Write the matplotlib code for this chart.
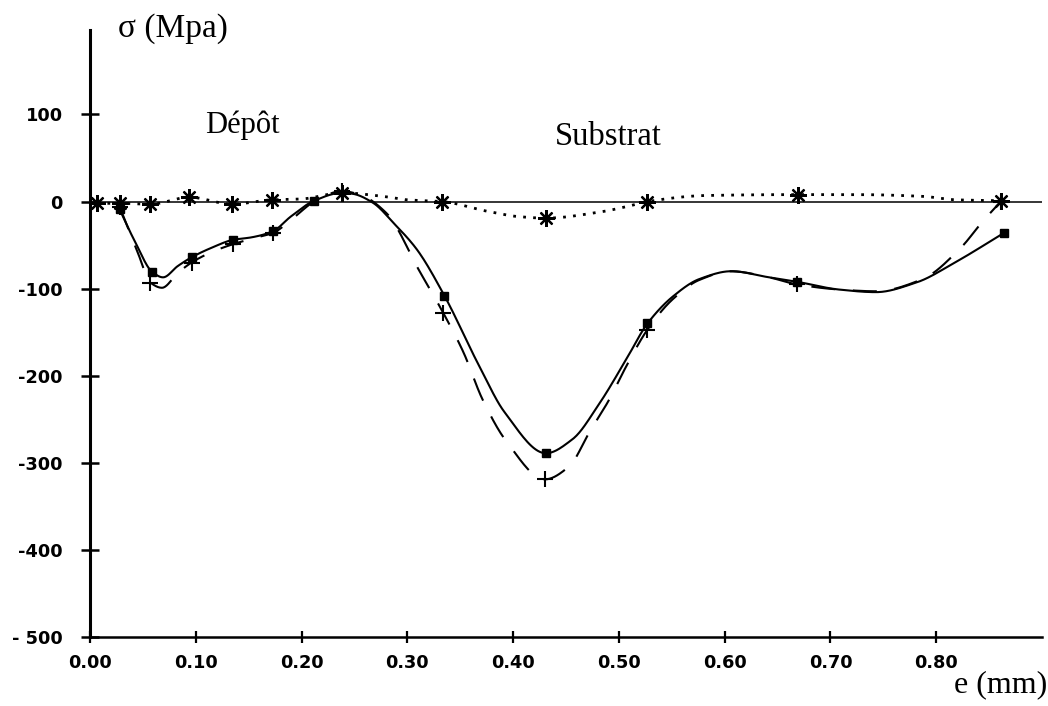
import numpy as np
import matplotlib
matplotlib.use("Agg")
import matplotlib.pyplot as plt

# Depth below surface e (mm) and residual stress sigma (MPa) for three profiles.
# Profile A: solid line, square markers
e_a = [0.028, 0.0425, 0.059, 0.069, 0.083, 0.096, 0.115, 0.135, 0.153, 0.173,
       0.190, 0.212, 0.238, 0.248, 0.267, 0.288, 0.309, 0.335, 0.368, 0.392,
       0.431, 0.456, 0.482, 0.507, 0.527, 0.551, 0.576, 0.606, 0.642, 0.668,
       0.708, 0.743, 0.781, 0.819, 0.864]
s_a = [-9, -46, -81, -87, -74, -64, -53, -44, -41, -34,
       -17, 1, 10, 9, -1, -26, -55, -108, -189, -242,
       -289, -273, -231, -181, -140, -109, -89, -80, -87, -92,
       -101, -104, -93, -69, -36]
marks_a = [0, 2, 5, 7, 9, 11, 17, 20, 24, 29, 34]

# Profile B: dashed line, "+" markers
e_b = [0.028, 0.045, 0.057, 0.068, 0.083, 0.096, 0.115, 0.135, 0.155, 0.173,
       0.192, 0.212, 0.238, 0.255, 0.280, 0.312, 0.334, 0.353, 0.371, 0.394,
       0.430, 0.453, 0.472, 0.491, 0.507, 0.527, 0.551, 0.576, 0.606, 0.642,
       0.668, 0.708, 0.743, 0.787, 0.824, 0.843, 0.861]
s_b = [-6, -58, -93, -99, -82, -70, -58, -49, -42, -36,
       -19, 0, 12, 8, -13, -81, -128, -173, -227, -276,
       -319, -304, -265, -227, -189, -147, -112, -90, -80, -87,
       -95, -101, -103, -89, -52, -24, 0]
marks_b = [0, 2, 5, 7, 9, 12, 16, 20, 25, 30, 36]

# Profile C: dotted line, asterisk markers
e_c = [0.007, 0.028, 0.057, 0.094, 0.134, 0.172, 0.200, 0.238, 0.277, 0.300,
       0.333, 0.375, 0.403, 0.431, 0.482, 0.510, 0.527, 0.583, 0.669, 0.724,
       0.787, 0.819, 0.861]
s_c = [-2, -2, -3, 5, -3, 2, 3, 10, 6, 2,
       0, -11, -17, -19, -12, -5, 0, 7, 8, 8,
       6, 2, 1]
marks_c = [0, 1, 2, 3, 4, 5, 7, 10, 13, 16, 18, 22]

x_ticks = [0.0, 0.1, 0.2, 0.3, 0.4, 0.5, 0.6, 0.7, 0.8]
x_labels = ["0.00", "0.10", "0.20", "0.30", "0.40", "0.50", "0.60", "0.70", "0.80"]
y_ticks = [-500, -400, -300, -200, -100, 0, 100]
y_labels = ["- 500", "-400", "-300", "-200", "-100", "0", "100"]


def pchip(x, y, n=20):
    """Shape-preserving cubic Hermite curve through (x, y)."""
    x = np.asarray(x, float)
    y = np.asarray(y, float)
    h = np.diff(x)
    d = np.diff(y) / h
    m = np.zeros_like(y)
    for k in range(1, len(x) - 1):
        if d[k - 1] * d[k] > 0:
            w1 = 2 * h[k] + h[k - 1]
            w2 = h[k] + 2 * h[k - 1]
            m[k] = (w1 + w2) / (w1 / d[k - 1] + w2 / d[k])
    m[0] = d[0]
    m[-1] = d[-1]
    xs, ys = [], []
    for k in range(len(x) - 1):
        t = np.linspace(0, 1, n, endpoint=False)
        h00 = 2 * t**3 - 3 * t**2 + 1
        h10 = t**3 - 2 * t**2 + t
        h01 = -2 * t**3 + 3 * t**2
        h11 = t**3 - t**2
        xs.extend(x[k] + t * h[k])
        ys.extend(h00 * y[k] + h10 * h[k] * m[k] + h01 * y[k + 1] + h11 * h[k] * m[k + 1])
    xs.append(x[-1])
    ys.append(y[-1])
    return np.array(xs), np.array(ys)


fig = plt.figure(figsize=(10.48, 7.06), dpi=100)
ax = fig.add_axes([0.0859, 0.0977, 0.9084, 0.8598])

# zero reference line
ax.axhline(0, color="black", lw=1.1, zorder=1)

xa, ya = pchip(e_a, s_a)
ax.plot(xa, ya, color="black", lw=1.5, zorder=3)
ax.plot(np.array(e_a)[marks_a], np.array(s_a)[marks_a], ls="none", marker="s",
        ms=6, color="black", zorder=4)

xb, yb = pchip(e_b, s_b)
ax.plot(xb, yb, color="black", lw=1.5, dashes=(11.5, 8.5), zorder=3)
ax.plot(np.array(e_b)[marks_b], np.array(s_b)[marks_b], ls="none", marker="+",
        ms=12, mew=1.5, color="black", zorder=4)

xc, yc = pchip(e_c, s_c)
ax.plot(xc, yc, color="black", lw=2.0, dashes=(1, 2.6), zorder=3)
ax.plot(np.array(e_c)[marks_c], np.array(s_c)[marks_c], ls="none", marker=(8, 2, 0),
        ms=12, mew=1.6, color="black", zorder=4)

ax.set_xlim(0, 0.9)
ax.set_ylim(-500, 197)

for side in ("top", "right"):
    ax.spines[side].set_visible(False)
ax.spines["left"].set_linewidth(2.2)
ax.spines["bottom"].set_linewidth(1.8)

ax.set_xticks(x_ticks)
ax.set_xticklabels(x_labels)
ax.set_yticks(y_ticks)
ax.set_yticklabels(y_labels)
ax.tick_params(axis="x", direction="inout", length=9, width=1.6, pad=8,
               labelsize=12.8)
ax.tick_params(axis="y", direction="inout", length=13, width=1.8, pad=13,
               labelsize=12.8)
for lab in ax.get_xticklabels() + ax.get_yticklabels():
    lab.set_fontweight("bold")
    lab.set_family("DejaVu Sans")

serif = "Liberation Serif"
W, H = 1048.0, 706.0
fig.text(118 / W, 1 - 37 / H, "σ (Mpa)", family=serif, fontsize=24, va="baseline", ha="left")
fig.text(205 / W, 1 - 133 / H, "Dépôt", family=serif, fontsize=22, va="baseline", ha="left")
fig.text(555 / W, 1 - 145 / H, "Substrat", family=serif, fontsize=23.5, va="baseline", ha="left")
fig.text(1047 / W, 1 - 692 / H, "e (mm)", family=serif, fontsize=23, va="baseline", ha="right")

fig.savefig("out.png", dpi=100)
